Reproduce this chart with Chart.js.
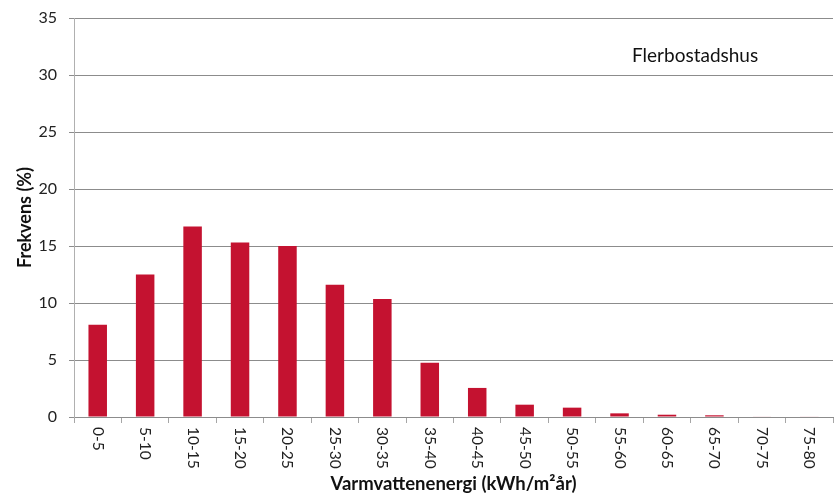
<!DOCTYPE html>
<html>
<head>
<meta charset="utf-8">
<script src="https://cdn.jsdelivr.net/npm/chart.js@4"></script>
<style>
  html, body { margin: 0; padding: 0; background: #fff; }
  #wrap { width: 835px; height: 495px; }
</style>
</head>
<body>
<div id="wrap"><canvas id="frekvensChart"></canvas></div>
<script>
const kategorier = ['0-5', '5-10', '10-15', '15-20', '20-25', '25-30', '30-35', '35-40',
    '40-45', '45-50', '50-55', '55-60', '60-65', '65-70', '70-75', '75-80'];
const frekvens = [8.1, 12.5, 16.7, 15.3, 15.0, 11.6, 10.35, 4.75,
    2.55, 1.08, 0.82, 0.32, 0.2, 0.15, 0.05, 0.05];
const yTicks = [0, 5, 10, 15, 20, 25, 30, 35];
const etikett = 'Flerbostadshus';

const fontNamn = 'Lato, "Open Sans", sans-serif';

// x-etiketter ritas själva, roterade medurs som i originalet
const xEtiketter = {
    id: 'xEtiketter',
    afterDraw(chart) {
        const ctx = chart.ctx;
        const xs = chart.scales.x;
        ctx.save();
        ctx.fillStyle = '#222';
        ctx.font = '15.5px ' + fontNamn;
        ctx.textAlign = 'left';
        ctx.textBaseline = 'middle';
        kategorier.forEach((k, i) => {
            const x = xs.getPixelForTick(i);
            ctx.save();
            ctx.translate(x, xs.top + 10);
            ctx.rotate(Math.PI / 2);
            ctx.fillText(k, 0, 0);
            ctx.restore();
        });
        // texten uppe till höger
        ctx.font = '19px ' + fontNamn;
        ctx.fillStyle = '#111';
        ctx.textAlign = 'left';
        ctx.fillText(etikett, 632, 56);
        ctx.restore();
    }
};

document.addEventListener("DOMContentLoaded", function() {
    const ctx = document.getElementById('frekvensChart').getContext('2d');
    new Chart(ctx, {
        type: 'bar',
        data: {
            labels: kategorier,
            datasets: [{
                data: frekvens,
                backgroundColor: '#C41230',
                categoryPercentage: 1,
                barPercentage: 0.39
            }]
        },
        options: {
            responsive: true,
            maintainAspectRatio: false,
            animation: false,
            layout: { padding: { top: 0, right: 2, left: 0, bottom: 0 } },
            plugins: {
                legend: { display: false },
                tooltip: { enabled: false }
            },
            scales: {
                x: {
                    offset: true,
                    grid: {
                        offset: true,
                        drawOnChartArea: false,
                        drawTicks: true,
                        tickLength: 6,
                        color: '#a6a6a6'
                    },
                    border: { color: '#8c8c8c' },
                    ticks: { display: false },
                    title: {
                        display: true,
                        text: 'Varmvattenenergi (kWh/m²år)',
                        color: '#111',
                        font: { family: fontNamn, size: 18.5, weight: 'bold' },
                        padding: { top: 0, bottom: 0 }
                    },
                    afterFit(scale) { scale.height = 78; }
                },
                y: {
                    min: 0,
                    max: 35,
                    afterBuildTicks(scale) {
                        scale.ticks = yTicks.map(v => ({ value: v }));
                    },
                    grid: {
                        color: '#8c8c8c',
                        tickLength: 5
                    },
                    border: { color: '#b0b0b0' },
                    ticks: {
                        color: '#222',
                        padding: 12,
                        font: { family: fontNamn, size: 16 }
                    },
                    title: {
                        display: true,
                        text: 'Frekvens (%)',
                        color: '#111',
                        font: { family: fontNamn, size: 18, weight: 'bold' },
                        padding: { top: 14, bottom: 0 }
                    },
                    afterFit(scale) {
                        scale.width = 74;
                        scale.paddingTop = 18;
                    }
                }
            }
        },
        plugins: [xEtiketter]
    });
});
</script>
</body>
</html>
